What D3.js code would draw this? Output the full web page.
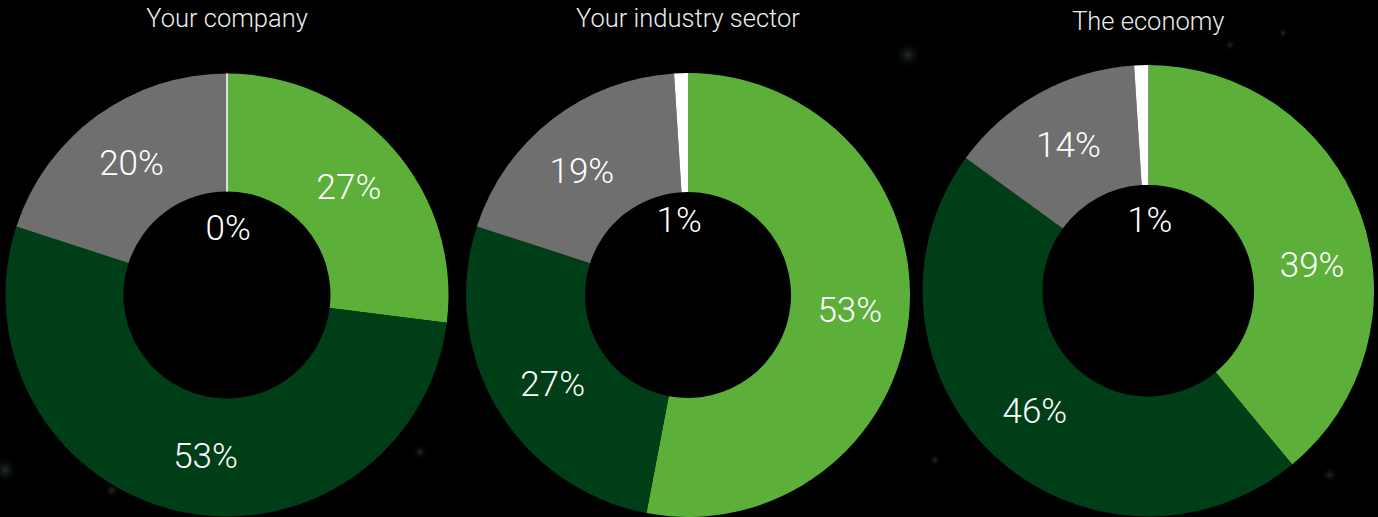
<!DOCTYPE html>
<html>
<head>
<meta charset="utf-8">
<script src="https://cdn.jsdelivr.net/npm/d3@7"></script>
<style>
  html, body { margin: 0; padding: 0; background: #000; }
  svg { display: block; }
  text { font-family: Roboto, "Open Sans", sans-serif; font-weight: 300; }
</style>
</head>
<body>
<svg id="chart" width="1378" height="517"></svg>
<script>
// Share of respondents per answer, one donut per scope
const titles = ["Your company", "Your industry sector", "The economy"];
const answers = ["Grow", "Shrink", "Stay the same", "Don't know"];
const yourCompany = [27, 53, 20, 0];
const industrySector = [53, 27, 19, 1];
const economy = [39, 46, 14, 1];
const seriesValues = [yourCompany, industrySector, economy];

// Slice colours, in answer order
const sliceColors = ["#5cb03a", "#003e17", "#6f6f6f", "#ffffff"];

// Panel geometry; labelTurn nudges a label along the ring (degrees, clockwise)
const panels = [
  { cx: 227,    cy: 295,   outer: 221.5, inner: 103.5, holeLabelR: 67,   titleY: 27, labelTurn: [0, -5, 0, 1] },
  { cx: 688,    cy: 295,   outer: 222,   inner: 103,   holeLabelR: 75,   titleY: 27, labelTurn: [0, -3, -3, -5] },
  { cx: 1148.3, cy: 290.7, outer: 225.7, inner: 105.8, holeLabelR: 70.5, titleY: 30, labelTurn: [11, 0, 0, 3] }
];

const svg = d3.select("#chart");
const W = 1378, H = 517;

// faint glow specks in the backdrop
const defs = svg.append("defs");
const glow = defs.append("radialGradient").attr("id", "speck");
glow.append("stop").attr("offset", "0%").attr("stop-color", "#3a4a3a").attr("stop-opacity", 0.6);
glow.append("stop").attr("offset", "100%").attr("stop-color", "#000").attr("stop-opacity", 0);
svg.append("rect").attr("width", W).attr("height", H).attr("fill", "#000");
const specks = [[5, 470, 14], [112, 490, 8], [420, 452, 8], [908, 55, 14], [1230, 45, 6], [1283, 33, 5], [1330, 475, 8], [1345, 180, 6], [935, 460, 6], [600, 30, 5]];
svg.append("g").selectAll("circle").data(specks).join("circle")
  .attr("cx", d => d[0]).attr("cy", d => d[1]).attr("r", d => d[2])
  .attr("fill", "url(#speck)");

const color = d3.scaleOrdinal().domain(answers).range(sliceColors);
const pie = d3.pie().sort(null).value(d => d.value);

panels.forEach((p, i) => {
  const data = answers.map((a, k) => ({ answer: a, value: seriesValues[i][k], k }));
  const arcs = pie(data);
  const arc = d3.arc().innerRadius(p.inner).outerRadius(p.outer);

  const g = svg.append("g").attr("transform", `translate(${p.cx},${p.cy})`);

  g.selectAll("path").data(arcs).join("path")
    .attr("d", arc)
    .attr("fill", d => color(d.data.answer))
    .attr("stroke", d => d.data.value < 0.5 ? color(d.data.answer) : "none")
    .attr("stroke-width", d => d.data.value < 0.5 ? 1 : 0);

  // Percentage labels: mid-ring for the large slices, small slices sit inside the hole
  g.selectAll("text.pct").data(arcs).join("text")
    .attr("class", "pct")
    .attr("text-anchor", "middle")
    .attr("dominant-baseline", "central")
    .attr("fill", "#ffffff")
    .attr("font-size", 35)
    .attr("transform", d => {
      const mid = (d.startAngle + d.endAngle) / 2 + p.labelTurn[d.data.k] * Math.PI / 180;
      const r = d.data.value <= 2 ? p.holeLabelR : (p.inner + p.outer) / 2;
      return `translate(${r * Math.sin(mid)},${-r * Math.cos(mid)})`;
    })
    .text(d => d.data.value + "%");

  svg.append("text")
    .attr("x", p.cx)
    .attr("y", p.titleY)
    .attr("text-anchor", "middle")
    .attr("fill", "#ececec")
    .attr("font-size", 25.5)
    .text(titles[i]);
});
</script>
</body>
</html>
